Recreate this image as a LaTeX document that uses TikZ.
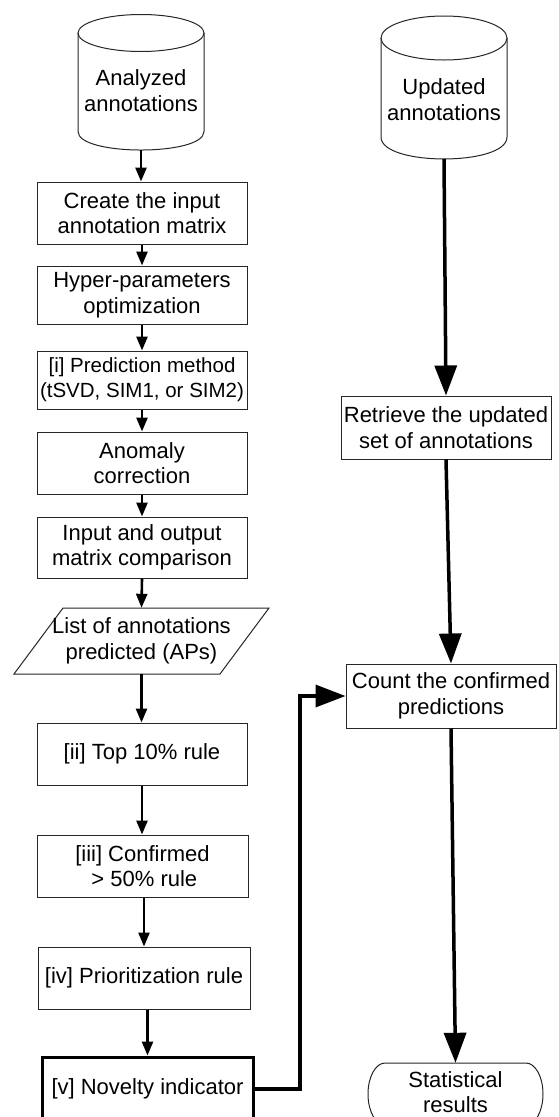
\documentclass[tikz,border=0pt]{standalone}
\usepackage{fontspec}
\setmainfont{Liberation Sans}
\usetikzlibrary{arrows.meta,calc}
\begin{document}
\begin{tikzpicture}[x=1pt,y=-1pt,
  outline/.style={draw=black!85, line width=1pt},
  boxtxt/.style={font=\fontsize{22}{25.5}\selectfont},
  box/.style={outline, fill=white, rectangle, align=center, inner sep=0pt, minimum width=210pt, boxtxt},
  plain/.style={align=center, inner sep=0pt, boxtxt},
  thinarrow/.style={line width=2.6pt, -{Triangle[width=11pt,length=14pt]}},
  bigarrow/.style={line width=3.5pt, -{Triangle[width=22pt,length=30pt]}},
]
\useasboundingbox (0,0) rectangle (559,1117);
\clip (0,0) rectangle (559,1117);
\fill[white] (0,0) rectangle (559,1117);

% left cylinder
\draw[outline] (78,33) -- (78,131.5) .. controls (78,156.2) and (204,156.2) .. (204,131.5) -- (204,33);
\draw[outline] (141,33) ellipse [x radius=63, y radius=18.5];
\node[plain] (ana) at (141,90.5) {Analyzed\\annotations};
\coordinate (anab) at (141,150);

% right cylinder
\draw[outline] (381,38) -- (381,137) .. controls (381,166.3) and (507,166.3) .. (507,137) -- (507,38);
\draw[outline] (444,38) ellipse [x radius=63, y radius=22];
\node[plain] (upd) at (444,99.5) {Updated\\annotations};
\coordinate (updb) at (444,159);

% left column
\node[box, minimum height=62pt] (create) at (142,213) {Create the input\\annotation matrix};
\node[box, minimum height=58pt] (hyper) at (142,295) {Hyper-parameters\\optimization};
\node[box, minimum height=58pt, font=\fontsize{20.5}{25}\selectfont] (pred) at (142,380) {[i] Prediction method\\(tSVD, SIM1, or SIM2)};
\node[box, minimum height=62pt] (anom) at (142,463) {Anomaly\\correction};
\node[box, minimum height=61pt] (inout) at (142,547.5) {Input and output\\matrix comparison};
\draw[outline] (14,674) -- (220,674) -- (269,608) -- (63,608) -- cycle;
\node[plain, minimum width=206pt, minimum height=66pt] (list) at (141.5,641) {List of annotations\\predicted (APs)};
\node[box, minimum height=62pt] (top) at (142,754) {[ii] Top 10\% rule};
\node[box, minimum height=62pt, minimum width=211pt] (conf) at (142.5,866) {[iii] Confirmed\\ \,> 50\% rule};
\node[box, minimum height=62pt, minimum width=212pt] (prior) at (144,978) {[iv] Prioritization rule};
\node[box, minimum height=64pt, minimum width=211pt, line width=3pt, draw=black] (nov) at (147.5,1089) {[v] Novelty indicator};

% right column
\node[box, minimum height=63pt] (retr) at (446,427.5) {Retrieve the updated\\set of annotations};
\node[box, minimum height=64pt] (count) at (451,696) {Count the confirmed\\predictions};
\draw[outline] (385,1063) -- (526,1063) .. controls (535.4,1063) and (543,1076.9) .. (543,1094)
  .. controls (543,1111.1) and (535.4,1125) .. (526,1125) -- (385,1125)
  .. controls (375.6,1125) and (368,1111.1) .. (368,1094)
  .. controls (368,1076.9) and (375.6,1063) .. (385,1063) -- cycle;
\node[plain, minimum width=175pt, minimum height=58pt] (stat) at (455.5,1092) {Statistical\\results};

% left connectors
\draw[thinarrow] (anab) -- (anab |- create.north);
\draw[thinarrow] (create.south) -- (hyper.north);
\draw[thinarrow] (hyper.south) -- (pred.north);
\draw[thinarrow] (pred.south) -- (anom.north);
\draw[thinarrow] (anom.south) -- (inout.north);
\draw[thinarrow] (inout.south) -- (list.north);
\draw[thinarrow] (list.south) -- (list.south |- top.north);
\draw[thinarrow] (top.south) -- (top.south |- conf.north);
\draw[thinarrow] (conf.south -| prior.north) -- (prior.north);
\draw[thinarrow] (prior.south -| nov.north) -- (nov.north);

% right connectors
\draw[bigarrow] (updb) -- (retr.north);
\draw[bigarrow] (retr.south) -- (count.north);
\draw[bigarrow] (count.south) -- (stat.north);
\coordinate (bend) at (300,696);
\draw[bigarrow] (nov.east) -| (bend) -- (count.west);
\end{tikzpicture}
\end{document}
